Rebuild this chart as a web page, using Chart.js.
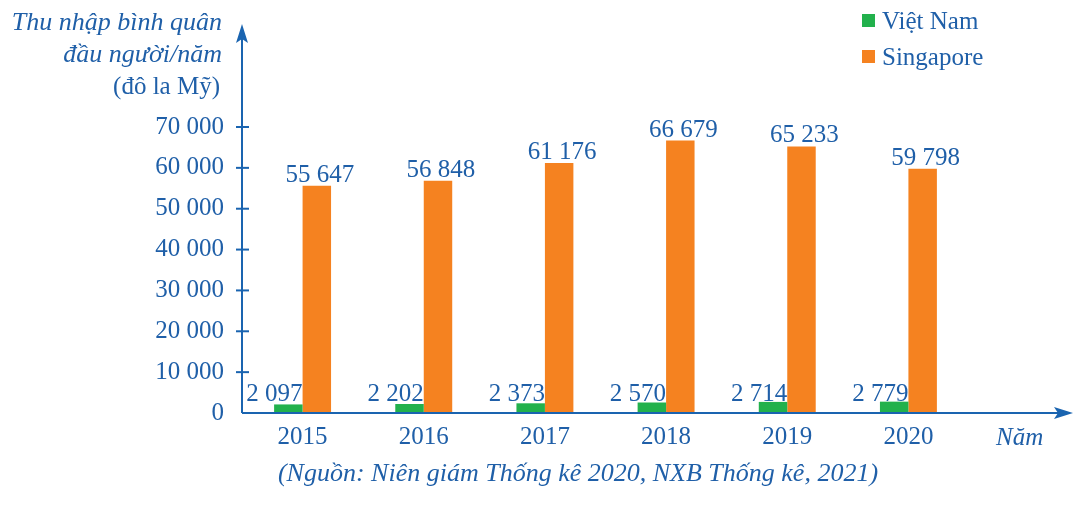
<!DOCTYPE html>
<html>
<head>
<meta charset="utf-8">
<script src="https://cdn.jsdelivr.net/npm/chart.js@4"></script>
<style>
	html, body { margin: 0; padding: 0; background: #fff; }
	#wrap { width: 1085px; height: 509px; }
</style>
</head>
<body>
<div id="wrap"><canvas id="chart"></canvas></div>
<script>
// Données
var years = ['2015', '2016', '2017', '2018', '2019', '2020'];
var vietnam = [2097, 2202, 2373, 2570, 2714, 2779];
var singapore = [55647, 56848, 61176, 66679, 65233, 59798];
var y_ticks = [0, 10000, 20000, 30000, 40000, 50000, 60000, 70000];

var blue = '#1f5fa8';
var axis_blue = '#1a64b0';
var green = '#22b14c';
var orange = '#f58220';
var serif = '"Liberation Serif", "DejaVu Serif", serif';

// format "55 647"
function fmt(v) {
	return String(v).replace(/\B(?=(\d{3})+(?!\d))/g, ' ');
}

// Axes avec flèches, étiquettes, légende et textes
var decor = {
	id: 'decor',
	afterDatasetsDraw(chart) {
		var ctx = chart.ctx;
		var area = chart.chartArea;
		var y = chart.scales.y;
		ctx.save();
		ctx.font = '25px ' + serif;
		ctx.fillStyle = blue;

		// étiquettes Việt Nam
		var m0 = chart.getDatasetMeta(0);
		ctx.textAlign = 'right';
		ctx.textBaseline = 'alphabetic';
		m0.data.forEach(function (bar, i) {
			ctx.fillText(fmt(vietnam[i]), bar.x + bar.width / 2, area.bottom - 12);
		});

		// étiquettes Singapore
		var m1 = chart.getDatasetMeta(1);
		ctx.textAlign = 'center';
		m1.data.forEach(function (bar, i) {
			ctx.fillText(fmt(singapore[i]), bar.x + 3, bar.y - 4);
		});

		// axes
		ctx.strokeStyle = axis_blue;
		ctx.fillStyle = axis_blue;
		ctx.lineWidth = 2;
		var x0 = area.left, y0 = area.bottom;
		ctx.beginPath();
		ctx.moveTo(x0, y0);
		ctx.lineTo(1064, y0);
		ctx.moveTo(x0, y0);
		ctx.lineTo(x0, 34);
		ctx.stroke();
		// graduations
		y_ticks.forEach(function (t) {
			if (t === 0) return;
			var py = y.getPixelForValue(t);
			ctx.beginPath();
			ctx.moveTo(x0 - 6, py);
			ctx.lineTo(x0 + 7, py);
			ctx.stroke();
		});
		// flèche X
		ctx.beginPath();
		ctx.moveTo(1073, y0);
		ctx.lineTo(1054, y0 - 6);
		ctx.lineTo(1058, y0);
		ctx.lineTo(1054, y0 + 6);
		ctx.closePath();
		ctx.fill();
		// flèche Y
		ctx.beginPath();
		ctx.moveTo(x0, 24);
		ctx.lineTo(x0 - 6, 43);
		ctx.lineTo(x0, 39);
		ctx.lineTo(x0 + 6, 43);
		ctx.closePath();
		ctx.fill();

		// titre de l'axe Y
		ctx.fillStyle = blue;
		ctx.textAlign = 'right';
		ctx.textBaseline = 'middle';
		ctx.font = 'italic 26px ' + serif;
		ctx.fillText('Thu nhập bình quân', 222, 23);
		ctx.fillText('đầu người/năm', 222, 55);
		ctx.font = '25px ' + serif;
		ctx.fillText('(đô la Mỹ)', 220, 87);

		// titre de l'axe X
		ctx.textAlign = 'left';
		ctx.font = 'italic 25px ' + serif;
		ctx.fillText('Năm', 996, 438);

		// source
		ctx.textAlign = 'center';
		ctx.font = 'italic 26px ' + serif;
		ctx.fillText('(Nguồn: Niên giám Thống kê 2020, NXB Thống kê, 2021)', 578, 474);

		// légende
		ctx.font = '25px ' + serif;
		ctx.textAlign = 'left';
		chart.data.datasets.forEach(function (ds, i) {
			var ly = 21 + i * 36;
			ctx.fillStyle = ds.backgroundColor;
			ctx.fillRect(862, ly - 7, 13, 13);
			ctx.fillStyle = blue;
			ctx.fillText(ds.label, 882, ly + 1);
		});
		ctx.restore();
	}
};

var chart = new Chart(document.getElementById('chart'), {
	type: 'bar',
	data: {
		labels: years,
		datasets: [
			{ label: 'Việt Nam', data: vietnam, backgroundColor: green },
			{ label: 'Singapore', data: singapore, backgroundColor: orange }
		]
	},
	options: {
		responsive: true,
		maintainAspectRatio: false,
		animation: false,
		devicePixelRatio: 1,
		layout: { padding: { top: 127, right: 116, left: 0, bottom: 0 } },
		datasets: { bar: { barPercentage: 1, categoryPercentage: 0.47 } },
		plugins: { legend: { display: false }, tooltip: { enabled: false } },
		scales: {
			x: {
				grid: { display: false, drawTicks: false },
				border: { display: false },
				ticks: { color: blue, font: { family: serif, size: 25 }, padding: 9 },
				afterFit: function (s) { s.height = 96; }
			},
			y: {
				min: 0,
				max: 70000,
				grid: { display: false, drawTicks: false },
				border: { display: false },
				afterBuildTicks: function (s) { s.ticks = y_ticks.map(function (v) { return { value: v }; }); },
				ticks: {
					color: blue,
					font: { family: serif, size: 25 },
					padding: 18,
					callback: function (v) { return fmt(v); }
				},
				afterFit: function (s) { s.width = 242; }
			}
		}
	},
	plugins: [decor]
});
</script>
</body>
</html>
